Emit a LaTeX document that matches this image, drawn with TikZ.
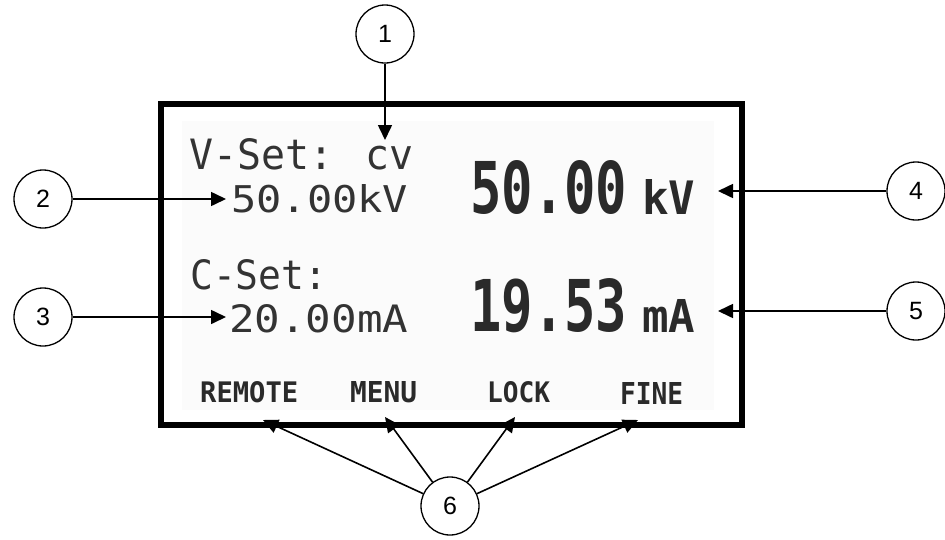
\documentclass[tikz,border=0pt]{standalone}
\usepackage{graphicx}
\usepackage{fontspec}
\setmainfont{Liberation Sans}
\newfontfamily\lcdfont{DejaVu Sans Mono}
\newfontfamily\lcdbold{DejaVu Sans Mono Bold}
\usetikzlibrary{arrows.meta}
\definecolor{lcdtext}{HTML}{333333}
\definecolor{lcdbig}{HTML}{2A2A2A}
\definecolor{lcdbg}{HTML}{FBFBFB}
\tikzset{
  circ/.style={circle, draw=black, line width=1.3pt, minimum size=58pt, inner sep=0pt, font=\fontsize{25}{25}\selectfont},
  arr/.style={line width=1.6pt, -{Triangle[length=15pt,width=14pt]}},
  lcd/.style={anchor=south west, inner sep=0pt, text=lcdtext},
  big/.style={anchor=south west, inner sep=0pt, text=lcdbig},
  frame/.style={draw=black, line width=6pt}
}
\begin{document}
\begin{tikzpicture}[x=1pt,y=-1pt]
\useasboundingbox (0,0) rectangle (945,539);
% display background
\fill[lcdbg] (182,121) rectangle (714,410);
% LCD texts
\node[lcd] (vset) at (189,170) {\resizebox{224pt}{31pt}{\lcdfont V-Set: cv}};
\node[lcd] (vval) at (231,213) {\resizebox{177pt}{28pt}{\lcdfont 50.00kV}};
\node[lcd] (cset) at (190,290) {\resizebox{137pt}{30pt}{\lcdfont C-Set:}};
\node[lcd] (cval) at (229,333) {\resizebox{179pt}{28pt}{\lcdfont 20.00mA}};
\node[big] (bigv) at (470,215) {\resizebox{157pt}{53pt}{\lcdbold 50.00}};
\node[big] (bigvu) at (642,215) {\resizebox{53pt}{35pt}{\lcdbold kV}};
\node[big] (bigc) at (470,333) {\resizebox{157pt}{53pt}{\lcdbold 19.53}};
\node[big] (bigcu) at (642,333) {\resizebox{53pt}{33pt}{\lcdbold mA}};
\node[big] (remote) at (200,403) {\resizebox{98pt}{21pt}{\lcdbold REMOTE}};
\node[big] (menu) at (350,403) {\resizebox{67pt}{21pt}{\lcdbold MENU}};
\node[big] (lock) at (487,403) {\resizebox{63pt}{21pt}{\lcdbold LOCK}};
\node[big] (fine) at (620,405) {\resizebox{63pt}{22pt}{\lcdbold FINE}};
% callout circles
\node[circ] (c1) at (385,34) {1};
\node[circ] (c2) at (43,199) {2};
\node[circ] (c3) at (43,317) {3};
\node[circ] (c4) at (916,191) {4};
\node[circ] (c5) at (916,311) {5};
\node[circ] (c6) at (450,506) {6};
% arrow targets
\coordinate (t1) at (385,140);
\coordinate (t2) at (226,199);
\coordinate (t3) at (226,317);
\coordinate (t4) at (718,191);
\coordinate (t5) at (718,311);
\coordinate (t6a) at (263,420);
\coordinate (t6b) at (385,417);
\coordinate (t6c) at (515,417);
\coordinate (t6d) at (638,420);
% connectors
\draw[arr] (c1) -- (t1);
\draw[arr] (c2) -- (t2);
\draw[arr] (c3) -- (t3);
\draw[arr] (c4) -- (t4);
\draw[arr] (c5) -- (t5);
\draw[arr] (c6) -- (t6a);
\draw[arr] (c6) -- (t6b);
\draw[arr] (c6) -- (t6c);
\draw[arr] (c6) -- (t6d);
% frame
\draw[frame] (161,104) rectangle (742,425);
\end{tikzpicture}
\end{document}
